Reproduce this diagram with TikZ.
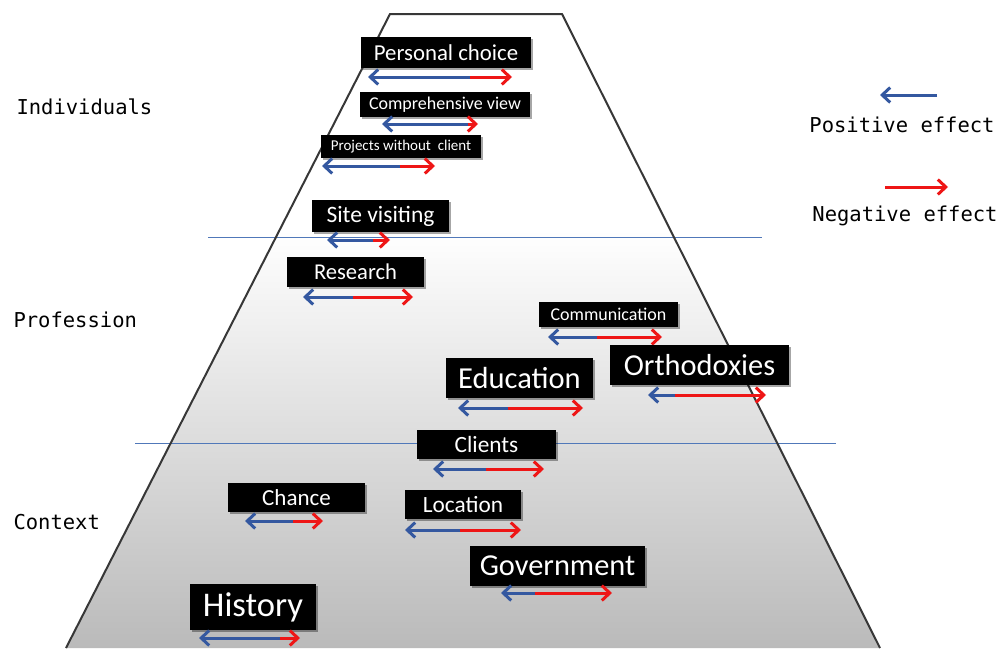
\documentclass[tikz,border=0pt]{standalone}
\usepackage{fontspec}
\newfontfamily\carlito{Carlito}
\newfontfamily\consol{DejaVu Sans Mono}
\usetikzlibrary{arrows.meta,shadows}
\definecolor{posblue}{RGB}{52,88,160}
\definecolor{negred}{RGB}{238,22,22}
\definecolor{sepline}{RGB}{80,120,185}
\definecolor{rim}{RGB}{55,55,55}
\newcommand{\fsz}[1]{\fontsize{#1}{#1}\selectfont}
\tikzset{factor/.style={fill=black,text=white,inner sep=0pt,font=\carlito,
  drop shadow={shadow xshift=1.5pt,shadow yshift=-1.5pt,opacity=.35,fill=black}}}
\tikzset{level/.style={font=\consol\fsz{20.5}}}
\tikzset{goodarrow/.style={draw=posblue,line width=3pt,-{Straight Barb[length=8pt,width=15pt]}}}
\tikzset{badarrow/.style={draw=negred,line width=3pt,-{Straight Barb[length=8pt,width=15pt]}}}
\tikzset{divider/.style={draw=sepline,line width=1pt}}
% #1 name, #2 y, #3 left tip, #4 colour change, #5 right tip
\newcommand{\effect}[5]{%
  \coordinate (#1-l) at (#3,#2);
  \coordinate (#1-m) at (#4,#2);
  \coordinate (#1-r) at (#5,#2);
  \draw[badarrow] (#1-m) -- (#1-r);
  \draw[goodarrow] (#1-m) -- (#1-l);}

\begin{document}
\begin{tikzpicture}[x=1pt,y=-1pt]
  \useasboundingbox[fill=white] (0,0) rectangle (1004,648);
  \coordinate (tl) at (390,14);
  \coordinate (tr) at (562,14);
  \coordinate (bl) at (66,648);
  \coordinate (br) at (880,648);
  \begin{scope}
    \clip (bl) -- (tl) -- (tr) -- (br) -- cycle;
    \shade[top color=white,bottom color=black!27] (0,230) rectangle (1004,648);
  \end{scope}

  \coordinate (d1w) at (208,237);
  \coordinate (d1e) at (762,237);
  \coordinate (d2w) at (135,443);
  \coordinate (d2e) at (836,443);
  \draw[divider] (d1w) -- (d1e);
  \draw[divider] (d2w) -- (d2e);
  \draw[rim,line width=2pt] (bl) -- (tl) -- (tr) -- (br);

  \node[level,anchor=west] (indiv) at (13,107) {Individuals};
  \node[level,anchor=west] (prof) at (10,320) {Profession};
  \node[level,anchor=west] (ctx) at (10,522) {Context};

  \node[factor,minimum width=170pt,minimum height=31pt] (pc) at (446,52.5) {\fsz{22.8}Personal choice};
  \effect{pc}{77}{368}{470}{512}
  \node[factor,minimum width=170pt,minimum height=25pt] (cv) at (445,104.5) {\fsz{18}Comprehensive view};
  \effect{cv}{124}{382}{468}{478}
  \node[factor,minimum width=160pt,minimum height=23pt] (pw) at (401,146.5) {\fsz{15}Projects without\ \ client};
  \effect{pw}{166}{322}{400}{435}
  \node[factor,minimum width=137pt,minimum height=32pt] (sv) at (380.5,216) {\fsz{23.5}Site visiting};
  \effect{sv}{240}{327}{373}{390}

  \node[factor,minimum width=137pt,minimum height=30pt] (re) at (355.5,272) {\fsz{22.6}Research};
  \effect{re}{297}{303}{353}{413}
  \node[factor,minimum width=139pt,minimum height=25pt] (co) at (608.5,314.5) {\fsz{18}Communication};
  \effect{co}{337}{548}{597}{662}
  \node[factor,minimum width=147pt,minimum height=40pt] (ed) at (519.5,378) {\fsz{30.5}Education};
  \effect{ed}{408}{458}{508}{583}
  \node[factor,minimum width=179pt,minimum height=40pt] (or) at (699.5,365) {\fsz{30.4}Orthodoxies};
  \effect{or}{395}{648}{675}{766}

  \node[factor,minimum width=139pt,minimum height=29pt] (cl) at (486.5,444.5) {\fsz{23.3}Clients};
  \effect{cl}{469}{433}{486}{544}
  \node[factor,minimum width=137pt,minimum height=29pt] (ch) at (296.5,497.5) {\fsz{23}Chance};
  \effect{ch}{521}{245}{293}{323}
  \node[factor,minimum width=116pt,minimum height=29pt] (lo) at (463,504.5) {\fsz{23.3}Location};
  \effect{lo}{530}{405}{460}{521}
  \node[factor,minimum width=175pt,minimum height=40pt] (go) at (557.5,566) {\fsz{30.4}Government};
  \effect{go}{593}{501}{535}{612}
  \node[factor,minimum width=126pt,minimum height=46pt] (hi) at (253,607) {\fsz{34.6}History};
  \effect{hi}{638}{199}{280}{300}

  % legend
  \coordinate (kp1) at (937,95);
  \coordinate (kp2) at (880,95);
  \draw[goodarrow] (kp1) -- (kp2);
  \node[level] (kpos) at (902,125) {Positive effect};
  \coordinate (kn1) at (885,187);
  \coordinate (kn2) at (948,187);
  \draw[badarrow] (kn1) -- (kn2);
  \node[level] (kneg) at (905,216) {Negative effect};
\end{tikzpicture}
\end{document}
